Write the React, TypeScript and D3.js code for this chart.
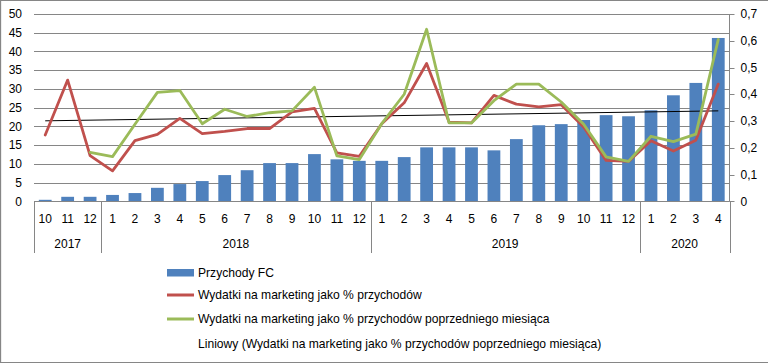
import React from "react";
import * as d3 from "d3";

const months = ["10","11","12","1","2","3","4","5","6","7","8","9","10","11","12","1","2","3","4","5","6","7","8","9","10","11","12","1","2","3","4"];
const years = [
  { label: "2017", start: 0, count: 3 },
  { label: "2018", start: 3, count: 12 },
  { label: "2019", start: 15, count: 12 },
  { label: "2020", start: 27, count: 4 },
];
const revenue = [0.4,1.2,1.2,1.7,2.2,3.6,4.6,5.4,7.0,8.3,10.2,10.2,12.6,11.2,10.8,10.8,11.8,14.4,14.4,14.4,13.6,16.6,20.3,20.6,21.7,23.0,22.7,24.3,28.3,31.6,43.6];
const marketingPct = [0.248,0.453,0.171,0.114,0.227,0.250,0.310,0.253,0.261,0.272,0.272,0.334,0.347,0.181,0.168,0.29,0.368,0.515,0.296,0.293,0.396,0.363,0.353,0.361,0.278,0.153,0.149,0.226,0.188,0.228,0.438];
const marketingPrevPct: (number | null)[] = [null,null,0.183,0.167,0.288,0.407,0.414,0.290,0.344,0.317,0.331,0.338,0.426,0.170,0.156,0.29,0.40,0.643,0.293,0.293,0.376,0.438,0.438,0.371,0.288,0.166,0.149,0.243,0.223,0.251,0.605];
const leftTicks = [0,5,10,15,20,25,30,35,40,45,50];
const rightTicks = [0,0.1,0.2,0.3,0.4,0.5,0.6,0.7];
const legendLabels = [
  "Przychody FC",
  "Wydatki na marketing jako % przychodów",
  "Wydatki na marketing jako % przychodów poprzedniego miesiąca",
  "Liniowy (Wydatki na marketing jako % przychodów poprzedniego miesiąca)",
];

const BLUE = "#4F81BD";
const RED = "#C0504D";
const GREEN = "#9BBB59";
const GRAY = "#868686";
const FONT = "'Liberation Sans', Arial, sans-serif";

export default function App() {
  const W = 768, H = 363;
  const x0 = 34, x1 = 729.5, yTop = 14, yBot = 201.3;
  const idx = months.map((_, i) => i);
  const x = d3.scaleBand<number>().domain(idx).range([x0, x1]).paddingInner(0.43).paddingOuter(0.215);
  const xb = d3.scaleBand<number>().domain(idx).range([x0, x1]);
  const cx = (i: number) => (xb(i) as number) + xb.bandwidth() / 2;
  const yL = d3.scaleLinear().domain([0, 50]).range([yBot, yTop]);
  const yR = d3.scaleLinear().domain([0, 0.7]).range([yBot, yTop]);
  const fmtR = (v: number) => (v === 0 ? "0" : d3.format(".1f")(v).replace(".", ","));

  const redLine = d3.line<number>().x((_, i) => cx(i)).y((d) => yR(d))(marketingPct) as string;
  const greenLine = d3
    .line<number | null>()
    .defined((d) => d !== null)
    .x((_, i) => cx(i))
    .y((d) => yR(d as number))(marketingPrevPct) as string;

  // linear trend of green series
  const pts = marketingPrevPct.map((v, i) => [i, v] as [number, number | null]).filter((p) => p[1] !== null) as [number, number][];
  const mx = d3.mean(pts, (p) => p[0]) as number;
  const my = d3.mean(pts, (p) => p[1]) as number;
  const sxy = d3.sum(pts, (p) => (p[0] - mx) * (p[1] - my));
  const sxx = d3.sum(pts, (p) => (p[0] - mx) ** 2);
  const slope = sxy / sxx;
  const icpt = my - slope * mx;
  const tr = (i: number) => icpt + slope * i;
  const nLast = months.length - 1;

  const sepXs = [x0, ...years.slice(1).map((y) => xb(y.start) as number), x1];

  return (
    <svg width={W} height={H} style={{ position: "absolute", left: 0, top: 0, background: "#fff" }} fontFamily={FONT}>
      <rect x={0} y={0} width={W} height={H} fill="#fff" />
      {/* border */}
      <line x1={0.5} y1={0} x2={0.5} y2={H} stroke={GRAY} strokeWidth={1.3} />
      <line x1={0} y1={0.5} x2={W} y2={0.5} stroke={GRAY} strokeWidth={1} />
      <line x1={0} y1={H - 0.5} x2={W} y2={H - 0.5} stroke={GRAY} strokeWidth={1} />

      {/* gridlines */}
      {leftTicks.map((t) => (
        <line key={"g" + t} x1={x0} x2={x1} y1={Math.round(yL(t)) + 0.5} y2={Math.round(yL(t)) + 0.5} stroke={GRAY} strokeWidth={1} />
      ))}
      {/* left labels */}
      {leftTicks.map((t) => (
        <text key={"l" + t} x={22} y={yL(t)} dy="0.35em" textAnchor="end" fontSize={12} fill="#000">{t}</text>
      ))}
      {/* right axis */}
      <line x1={x1} x2={x1} y1={yTop} y2={yBot} stroke={GRAY} strokeWidth={1} />
      {rightTicks.map((t) => (
        <g key={"r" + t}>
          <line x1={x1} x2={x1 + 5} y1={Math.round(yR(t)) + 0.5} y2={Math.round(yR(t)) + 0.5} stroke={GRAY} strokeWidth={1} />
          <text x={740.5} y={yR(t)} dy="0.35em" textAnchor="start" fontSize={12} fill="#000">{fmtR(t)}</text>
        </g>
      ))}

      {/* bars */}
      {revenue.map((v, i) => (
        <rect key={"b" + i} x={x(i)} y={yL(v)} width={x.bandwidth()} height={yBot - yL(v)} fill={BLUE} />
      ))}

      {/* trendline */}
      <line x1={cx(0)} y1={yR(tr(0))} x2={cx(nLast)} y2={yR(tr(nLast))} stroke="#000" strokeWidth={1} />

      {/* lines */}
      <path d={redLine} fill="none" stroke={RED} strokeWidth={2.8} strokeLinejoin="round" strokeLinecap="round" />
      <path d={greenLine} fill="none" stroke={GREEN} strokeWidth={2.8} strokeLinejoin="round" strokeLinecap="round" />

      {/* x axis */}
      <line x1={x0} x2={x1} y1={201.5} y2={201.5} stroke={GRAY} strokeWidth={1} />
      {sepXs.map((sx, i) => (
        <line key={"s" + i} x1={Math.round(sx) + 0.5} x2={Math.round(sx) + 0.5} y1={201} y2={253} stroke={GRAY} strokeWidth={1} />
      ))}
      {months.map((m, i) => (
        <text key={"m" + i} x={cx(i)} y={219} dy="0.35em" textAnchor="middle" fontSize={12} fill="#000">{m}</text>
      ))}
      {years.map((yr) => (
        <text key={yr.label} x={((xb(yr.start) as number) + (xb(yr.start + yr.count - 1) as number) + xb.bandwidth()) / 2} y={244} dy="0.35em" textAnchor="middle" fontSize={12} fill="#000">{yr.label}</text>
      ))}

      {/* legend */}
      <rect x={167} y={269} width={27} height={7.5} fill={BLUE} />
      <line x1={167} x2={194} y1={295} y2={295} stroke={RED} strokeWidth={3} />
      <line x1={167} x2={194} y1={319} y2={319} stroke={GREEN} strokeWidth={3} />
      {legendLabels.map((l, i) => (
        <text key={"lg" + i} x={198} y={[272.5, 295, 319, 344][i]} dy="0.35em" fontSize={12.1} fill="#000">{l}</text>
      ))}
    </svg>
  );
}
